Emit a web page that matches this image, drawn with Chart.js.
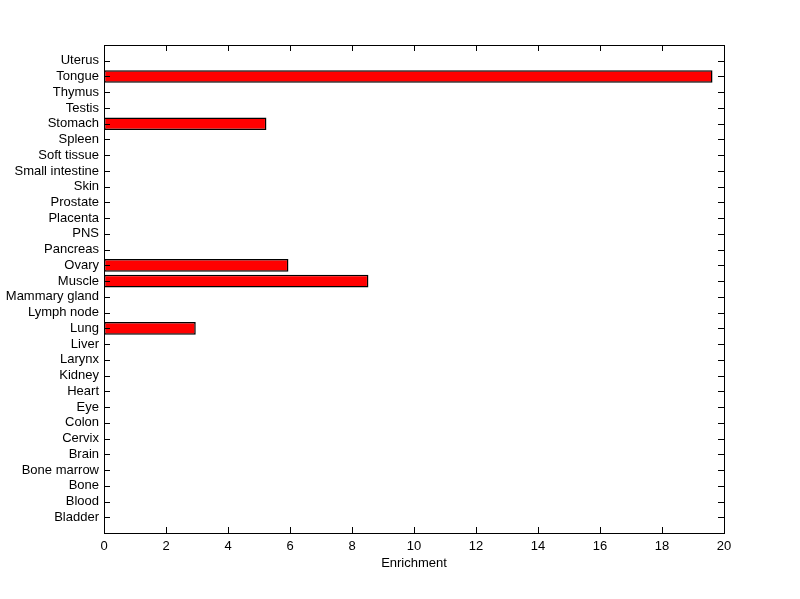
<!DOCTYPE html>
<html>
<head>
<meta charset="utf-8">
<script src="https://cdn.jsdelivr.net/npm/chart.js@4/dist/chart.umd.min.js"></script>
<style>
  html, body { margin: 0; padding: 0; background: #fff; }
  #wrap { width: 800px; height: 599px; }
</style>
</head>
<body>
<div id="wrap"><canvas id="chart" width="800" height="599"></canvas></div>
<script>
// ── Data (bottom to top, as on the y axis) ────────────────────────────────────
const tissues = [
  'Bladder', 'Blood', 'Bone', 'Bone marrow', 'Brain', 'Cervix', 'Colon', 'Eye',
  'Heart', 'Kidney', 'Larynx', 'Liver', 'Lung', 'Lymph node', 'Mammary gland',
  'Muscle', 'Ovary', 'Pancreas', 'PNS', 'Placenta', 'Prostate', 'Skin',
  'Small intestine', 'Soft tissue', 'Spleen', 'Stomach', 'Testis', 'Thymus',
  'Tongue', 'Uterus'
];
const enrichment = [
  0, 0, 0, 0, 0, 0, 0, 0,
  0, 0, 0, 0, 2.96, 0, 0,
  8.53, 5.95, 0, 0, 0, 0, 0,
  0, 0, 0, 5.24, 0, 0,
  19.63, 0
];
const xTicks = [0, 2, 4, 6, 8, 10, 12, 14, 16, 18, 20];

const FONT = { family: "'Liberation Sans', Arial, sans-serif", size: 13 };

// bars sit at positions 1..n on a linear axis running 0..n+1 (MATLAB style)
const points = tissues.map((t, i) => ({ x: enrichment[i] || null, y: i + 1 }));

// ── Box + inward tick marks on all four sides ─────────────────────────────────
const boxTicks = {
  id: 'boxTicks',
  afterDraw(chart) {
    const { ctx, chartArea: a, scales } = chart;
    const len = 6;
    ctx.save();
    ctx.strokeStyle = '#000';
    ctx.lineWidth = 1;
    ctx.beginPath();
    scales.x.ticks.forEach(t => {
      const px = Math.round(scales.x.getPixelForValue(t.value)) + 0.5;
      ctx.moveTo(px, a.bottom); ctx.lineTo(px, a.bottom - len);
      ctx.moveTo(px, a.top); ctx.lineTo(px, a.top + len);
    });
    scales.y.ticks.forEach(t => {
      const py = Math.round(scales.y.getPixelForValue(t.value)) + 0.5;
      ctx.moveTo(a.left, py); ctx.lineTo(a.left + len, py);
      ctx.moveTo(a.right, py); ctx.lineTo(a.right - len, py);
    });
    ctx.stroke();
    ctx.strokeRect(Math.round(a.left) + 0.5, Math.round(a.top) + 0.5,
                   Math.round(a.right - a.left), Math.round(a.bottom - a.top));
    ctx.restore();
  }
};

new Chart(document.getElementById('chart'), {
  type: 'bar',
  data: {
    datasets: [{
      data: points,
      backgroundColor: '#ff0000',
      borderColor: '#000000',
      borderWidth: 1.5,
      borderSkipped: false,
      barPercentage: 0.8,
      categoryPercentage: 1.0,
    }]
  },
  options: {
    indexAxis: 'y',
    responsive: false,
    animation: false,
    layout: { padding: { top: 45, right: 76, left: 0, bottom: 28 } },
    plugins: { legend: { display: false }, tooltip: { enabled: false } },
    scales: {
      x: {
        type: 'linear',
        min: 0,
        max: 20,
        afterBuildTicks: s => { s.ticks = xTicks.map(v => ({ value: v })); },
        afterFit: s => { s.height = 38; },
        grid: { display: false, drawTicks: false },
        border: { display: false },
        ticks: { color: '#000', font: FONT, padding: 6, maxRotation: 0 },
        title: { display: true, text: 'Enrichment', color: '#000', font: FONT, padding: { top: 1, bottom: 0 } }
      },
      y: {
        type: 'linear',
        offset: false,
        min: 0,
        max: tissues.length + 1,
        afterBuildTicks: s => { s.ticks = tissues.map((t, i) => ({ value: i + 1 })); },
        afterFit: s => { s.width = 104; },
        grid: { display: false, drawTicks: false, offset: false },
        border: { display: false },
        ticks: {
          color: '#000',
          font: FONT,
          padding: 5,
          autoSkip: false,
          callback: v => tissues[v - 1]
        }
      }
    }
  },
  plugins: [boxTicks]
});
</script>
</body>
</html>
